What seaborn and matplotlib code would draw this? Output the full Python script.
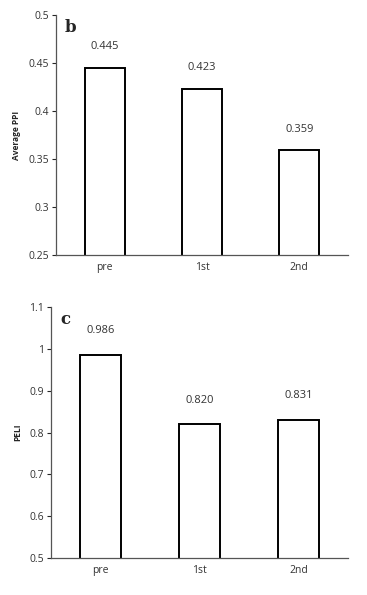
import matplotlib
matplotlib.use("Agg")
import matplotlib.pyplot as plt
import seaborn as sns
import pandas as pd

categories = ["pre", "1st", "2nd"]
ppi_values = [0.445, 0.423, 0.359]
ppi_labels = ["0.445", "0.423", "0.359"]
peli_values = [0.986, 0.820, 0.831]
peli_labels = ["0.986", "0.820", "0.831"]
ppi_ticks = [0.25, 0.3, 0.35, 0.4, 0.45, 0.5]
ppi_ticklabels = ["0.25", "0.3", "0.35", "0.4", "0.45", "0.5"]
peli_ticks = [0.5, 0.6, 0.7, 0.8, 0.9, 1.0, 1.1]
peli_ticklabels = ["0.5", "0.6", "0.7", "0.8", "0.9", "1", "1.1"]

sns.set_style("white")
plt.rcParams["font.family"] = ["Open Sans", "DejaVu Sans"]

fig = plt.figure(figsize=(3.67, 5.95), dpi=100)
ax1 = fig.add_axes([0.1526, 0.5714, 0.7954, 0.4034])
ax2 = fig.add_axes([0.139, 0.0622, 0.809, 0.4218])

def panel(ax, values, labels, ticks, ticklabels, ylabel, letter, off):
    df = pd.DataFrame({"cat": categories, "val": values})
    sns.barplot(data=df, x="cat", y="val", ax=ax, color="white",
                edgecolor="black", linewidth=1.4, width=0.41)
    ax.set_ylim(ticks[0], ticks[-1])
    ax.set_xlim(-0.5, 2.5)
    ax.set_yticks(ticks)
    ax.set_yticklabels(ticklabels, fontsize=7.5, color="#333333")
    ax.tick_params(axis="y", length=3, width=0.8, direction="out", left=True, pad=2)
    ax.tick_params(axis="x", length=0, labelsize=7.5, labelcolor="#333333", pad=5)
    ax.set_xlabel("")
    ax.set_ylabel(ylabel, fontsize=6, fontweight="bold", labelpad=5)
    for s in ["top", "right"]:
        ax.spines[s].set_visible(False)
    for s in ["left", "bottom"]:
        ax.spines[s].set_color("#555555")
        ax.spines[s].set_linewidth(0.9)
    for i, (v, lab) in enumerate(zip(values, labels)):
        ax.text(i, v + off, lab, ha="center", va="center", fontsize=8, color="#333333")
    ax.text(0.03, 0.985, letter, transform=ax.transAxes, ha="left", va="top",
            fontsize=12, fontweight="bold", family="DejaVu Serif")

panel(ax1, ppi_values, ppi_labels, ppi_ticks, ppi_ticklabels, "Average PPI", "b", 0.022)
panel(ax2, peli_values, peli_labels, peli_ticks, peli_ticklabels, "PELI", "c", 0.057)

fig.savefig("out.png", dpi=100)
